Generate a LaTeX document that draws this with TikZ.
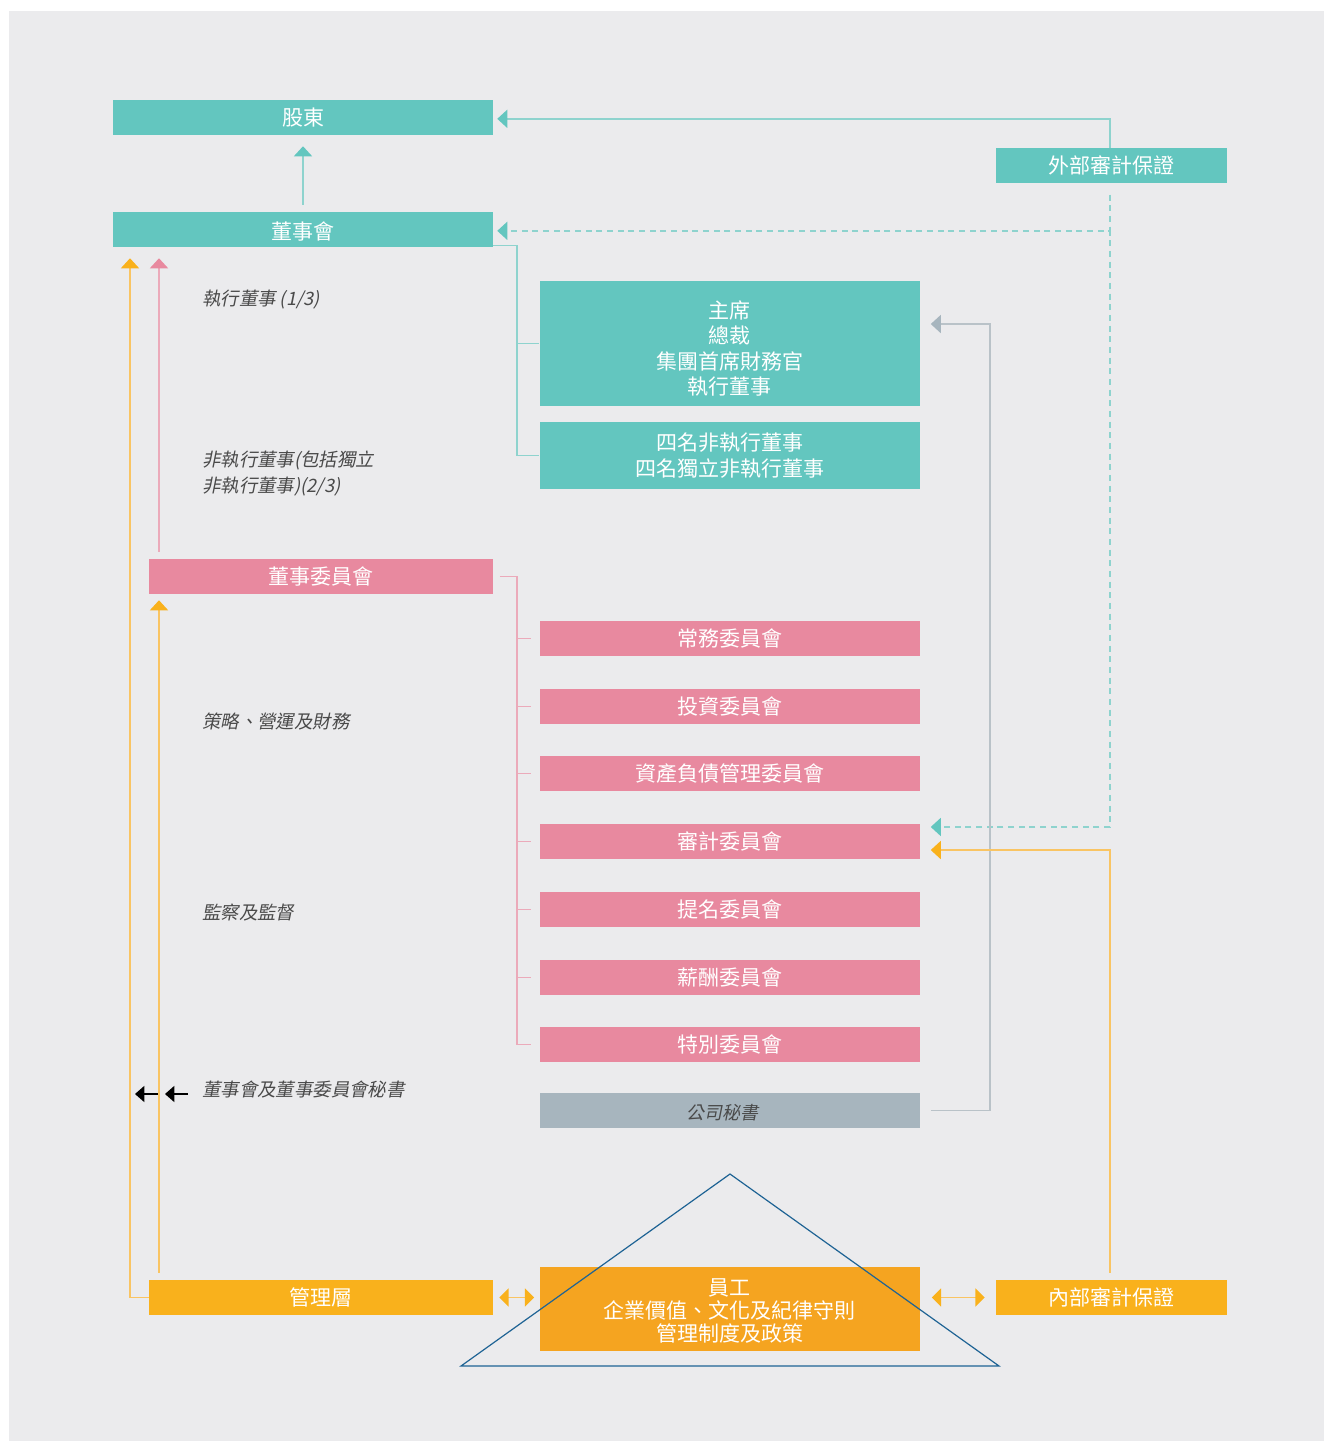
\documentclass[tikz,border=0pt]{standalone}
\usepackage{fontspec}
\setmainfont{Noto Sans CJK TC}
\newfontfamily\itcjk[FakeSlant=0.2]{Noto Sans CJK TC}
\usetikzlibrary{arrows.meta}
\definecolor{bgc}{HTML}{EBEBED}
\definecolor{tealc}{HTML}{63C6BF}
\definecolor{teall}{HTML}{8ED3CE}
\definecolor{pinkc}{HTML}{E8899F}
\definecolor{pinkl}{HTML}{EBAABA}
\definecolor{yelc}{HTML}{F9B11C}
\definecolor{yell}{HTML}{F9C463}
\definecolor{orgc}{HTML}{F5A420}
\definecolor{greyc}{HTML}{A7B5BE}
\definecolor{greyl}{HTML}{B9C2C8}
\definecolor{lblc}{HTML}{4A4A4A}
\definecolor{triblue}{HTML}{1E6394}
\begin{document}
\begin{tikzpicture}[x=0.75pt,y=-0.75pt,
  box/.style={inner sep=0pt, align=center, text=white,
    font=\fontsize{15.75}{19}\selectfont, minimum width=285pt, minimum height=26.25pt},
  tealbox/.style={box, fill=tealc},
  pinkbox/.style={box, fill=pinkc},
  yelbox/.style={box, fill=yelc},
  greybox/.style={box, fill=greyc, text=lblc, font=\itcjk\fontsize{13.5}{16}\selectfont},
  lbl/.style={anchor=west, align=left, inner sep=0pt, text=lblc,
    font=\itcjk\fontsize{13.8}{19.5}\selectfont},
  tealtip/.style={-{Triangle[width=13.5pt,length=7.5pt,color=tealc]}},
  pinktip/.style={-{Triangle[width=13.5pt,length=7.5pt,color=pinkc]}},
  yeltip/.style={-{Triangle[width=13.5pt,length=7.5pt,color=yelc]}},
  greytip/.style={-{Triangle[width=13.5pt,length=7.5pt,color=greyc]}},
  dbltip/.style={{Triangle[width=13.5pt,length=7pt,color=yelc]}-{Triangle[width=13.5pt,length=7pt,color=yelc]}},
  blktip/.style={-{Triangle[width=12pt,length=7pt]}},
  conn/.style={line width=1.1pt},
  dashconn/.style={line width=1.1pt, dash pattern=on 4.5pt off 3.5pt}
]
\useasboundingbox (0,0) rectangle (1324,1441);
\fill[white] (0,0) rectangle (1324,1441);
\fill[bgc] (9,11) rectangle (1324,1441);

% boxes
\node[tealbox] (sh) at (303,117.5) {股東};
\node[tealbox] (bd) at (303,229.5) {\rule{0pt}{16pt}董事會};
\node[tealbox, minimum width=173.25pt] (ext) at (1111.5,165.5) {外部審計保證};
\node[tealbox, minimum height=93.75pt] (chair) at (729.5,343.5) {\rule{0pt}{21pt}主席\\總裁\\集團首席財務官\\執行董事};
\node[tealbox, minimum height=50.25pt] (ned) at (729.5,455.5) {四名非執行董事\\四名獨立非執行董事};
\node[pinkbox, minimum width=258pt] (bc) at (321,576.5) {董事委員會};
\node[pinkbox] (sc) at (729.5,638.5) {常務委員會};
\node[pinkbox] (inv) at (729.5,706.5) {投資委員會};
\node[pinkbox] (alm) at (729.5,773.5) {資產負債管理委員會};
\node[pinkbox] (aud) at (729.5,841.5) {審計委員會};
\node[pinkbox] (nom) at (729.5,909.5) {提名委員會};
\node[pinkbox] (rem) at (729.5,977.5) {薪酬委員會};
\node[pinkbox] (spc) at (729.5,1044.5) {特別委員會};
\node[greybox] (sec) at (729.5,1110.5) {\rule{0pt}{15pt}公司秘書\hspace{10pt}};
\node[box, fill=orgc, minimum height=63pt, font=\fontsize{15.75}{17.25}\selectfont] (staff) at (729.5,1309) {\rule{0pt}{16pt}員工\\企業價值、文化及紀律守則\\管理制度及政策};
\node[yelbox, minimum width=258pt] (mgmt) at (321,1297.5) {管理層};
\node[yelbox, minimum width=173.25pt] (ia) at (1111.5,1297.5) {內部審計保證};

% triangle
\draw[triblue, line width=0.9pt, line join=miter] (730,1174) -- (999,1366) -- (461,1366) -- cycle;

% labels
\node[lbl] (l1) at (202,300) {執行董事 (1/3)};
\node[lbl] (l2) at (202,474) {非執行董事(包括獨立\\非執行董事)(2/3)};
\node[lbl] (l3) at (202,721) {策略、營運及財務};
\node[lbl] (l4) at (202,913) {監察及監督};
\node[lbl] (l5) at (202,1090) {董事會及董事委員會秘書};

% helper coordinates
\coordinate (bx) at (517,0);
\coordinate (gx) at (990,0);
\coordinate (lx) at (130,0);
\coordinate (px) at (159,0);
\coordinate (rx) at (1110,0);

% teal connectors
\draw[conn, teall, tealtip, shorten <=5.25pt, shorten >=8.25pt] (bd.north) -- (sh.south);
\draw[conn, teall, tealtip, shorten >=3pt] (rx |- ext.north) |- ([yshift=-1pt]sh.east);
\draw[dashconn, teall, tealtip, shorten <=8.5pt, shorten >=3pt] (rx |- ext.south) |- ([yshift=-1pt]bd.east);
\draw[dashconn, teall, tealtip, shorten >=8.25pt] (rx |- bd.east) |- ([yshift=10.9pt]aud.east);
\draw[conn, teall] ([yshift=1.5pt]bd.south east) -| (bx |- ned.west) -- (ned.west);
\draw[conn, teall] (bx |- chair.west) -- (chair.west);

% pink bracket
\draw[conn, pinkl] ([xshift=5pt]bc.east) -| (bx |- spc.west) -- ([xshift=-6pt]spc.west);
\foreach \c in {sc,inv,alm,aud,nom,rem}{
  \draw[conn, pinkl] (bx |- \c.west) -- ([xshift=-6pt]\c.west);
}

% grey connector
\draw[conn, greyl, greytip, shorten <=8.25pt, shorten >=8.25pt] (sec.east) -- (gx |- sec.east) |- ([yshift=14.6pt]chair.east);

% yellow connectors
\draw[conn, yell, yeltip, shorten <=5.25pt, shorten >=8.25pt] (rx |- ia.north) |- ([yshift=-6.4pt]aud.east);
\draw[conn, yell, yeltip, shorten >=8.25pt] (mgmt.west) -| (lx |- bd.south);
\draw[conn, pinkl, pinktip, shorten <=5.25pt, shorten >=8.25pt] (px |- bc.north) -- (px |- bd.south);
\draw[conn, yell, yeltip, shorten <=5.25pt, shorten >=4.5pt] (px |- mgmt.north) -- (px |- bc.south);
\draw[conn, yell, dbltip, shorten <=4.5pt, shorten >=3.75pt] (mgmt.east) -- (staff.west |- mgmt.east);
\draw[conn, yell, dbltip, shorten <=9pt, shorten >=8.25pt] (staff.east |- ia.west) -- (ia.west);

% black arrows
\coordinate (k1s) at (158,1094);
\coordinate (k1e) at (135,1094);
\coordinate (k2s) at (188,1094);
\coordinate (k2e) at (165,1094);
\draw[line width=1.1pt, black, blktip] (k1s) -- (k1e);
\draw[line width=1.1pt, black, blktip] (k2s) -- (k2e);
\end{tikzpicture}
\end{document}
